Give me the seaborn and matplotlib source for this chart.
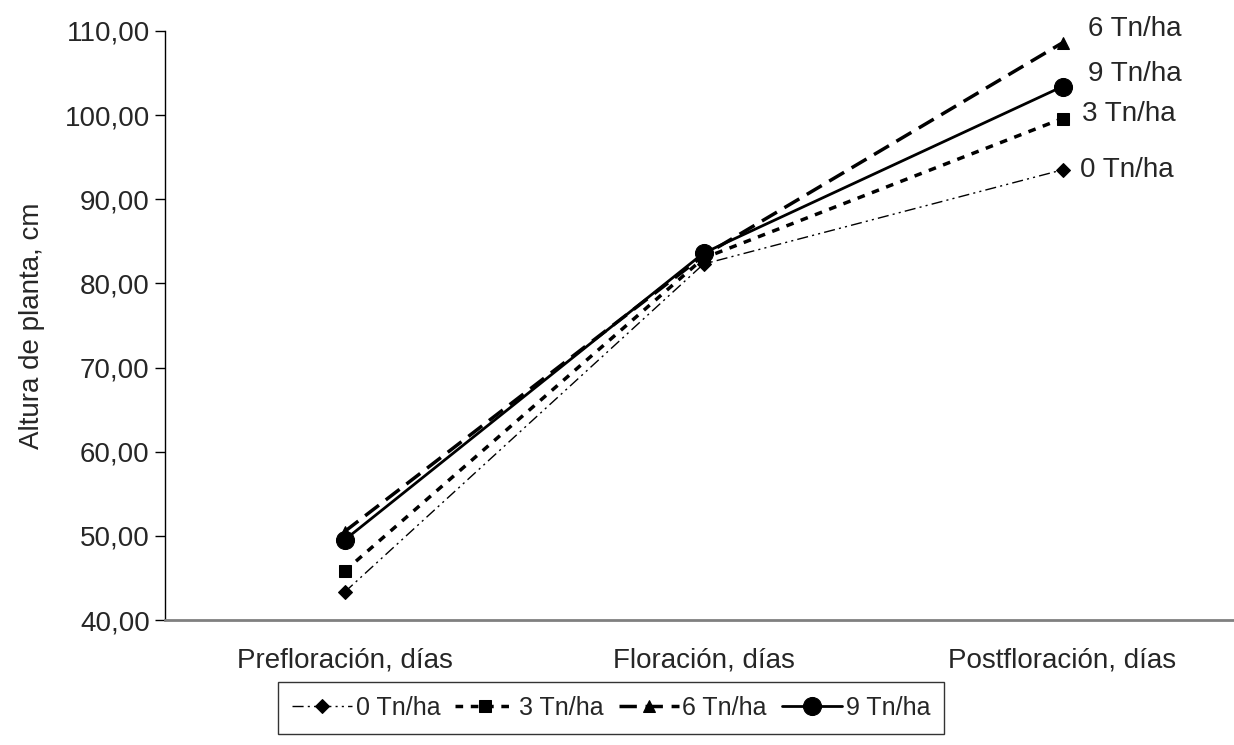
import matplotlib
matplotlib.use('Agg')
import matplotlib.pyplot as plt
import seaborn as sns
import pandas as pd
from matplotlib.ticker import FixedLocator, FuncFormatter

etapas = ['Prefloración, días', 'Floración, días', 'Postfloración, días']
series = ['0 Tn/ha', '3 Tn/ha', '6 Tn/ha', '9 Tn/ha']
t0 = [43.3, 82.3, 93.5]
t3 = [45.8, 83.0, 99.6]
t6 = [50.5, 83.3, 108.6]
t9 = [49.5, 83.6, 103.4]

valores = [t0, t3, t6, t9]
rows = []
for s, vals in zip(series, valores):
    for i, v in enumerate(vals):
        rows.append({'serie': s, 'x': i, 'altura': v})
df = pd.DataFrame(rows)

sns.set_style('white')
plt.rcParams['font.family'] = ['Liberation Sans', 'DejaVu Sans']

fig = plt.figure(figsize=(12.34, 7.45), dpi=100)
ax = fig.add_axes([165 / 1234, 1 - 620 / 745, 1077 / 1234, 589 / 745])

estilos = {
    '0 Tn/ha': dict(dashes=(8, 3, 1.5, 3, 1.5, 3), marker='D', markersize=7, linewidth=1.0),
    '3 Tn/ha': dict(dashes=(2.2, 2.2), marker='s', markersize=8, linewidth=2.5),
    '6 Tn/ha': dict(dashes=(5, 2.5), marker='^', markersize=9, linewidth=2.5),
    '9 Tn/ha': dict(dashes=(), marker='o', markersize=13, linewidth=2.0),
}

for s in series:
    sub = df[df['serie'] == s]
    st = estilos[s]
    sns.lineplot(data=sub, x='x', y='altura', ax=ax, color='black',
                 marker=st['marker'], markersize=st['markersize'],
                 linewidth=st['linewidth'], markeredgecolor='black',
                 label=s, legend=False)
    l = ax.lines[-1]
    if st['dashes']:
        l.set_dashes(st['dashes'])

# etiquetas al final de cada serie
offsets = {'6 Tn/ha': (26, 14), '9 Tn/ha': (26, 13), '3 Tn/ha': (20, 5), '0 Tn/ha': (18, 0)}
for s, vals in zip(series, valores):
    dx, dy = offsets[s]
    ax.annotate(s, xy=(2, vals[2]), xytext=(dx / 1.389, dy / 1.389),
                textcoords='offset points', ha='left', va='center', fontsize=20)

ax.set_xlim(-0.5, 2.5)
ax.set_ylim(40, 110)
ax.set_yticks(range(40, 111, 10))
ax.yaxis.set_major_formatter(FuncFormatter(lambda v, p: f'{v:.2f}'.replace('.', ',')))
ax.set_xticks([0, 1, 2])
ax.set_xticklabels(etapas)
ax.xaxis.set_minor_locator(FixedLocator([0.5, 1.5]))
ax.tick_params(axis='x', which='major', length=0, pad=20, labelsize=20)
ax.tick_params(axis='x', which='minor', length=8, width=1.5, color='#404040', direction='out')
ax.tick_params(axis='y', length=7, width=1, color='black', direction='out', labelsize=20, pad=4, left=True)
ax.set_xlabel('')
ax.set_ylabel('Altura de planta, cm', fontsize=20, labelpad=14)

for side in ['top', 'right']:
    ax.spines[side].set_visible(False)
ax.spines['left'].set_color('black')
ax.spines['left'].set_linewidth(1)
ax.spines['bottom'].set_color('#808080')
ax.spines['bottom'].set_linewidth(2)

handles = ax.lines[:4]
leg = fig.legend(handles, series, loc='center', ncol=4,
                 bbox_to_anchor=(611 / 1234, 1 - 708 / 745), fontsize=18,
                 frameon=True, fancybox=False, handlelength=2.4, handletextpad=0.15,
                 columnspacing=0.6, borderpad=0.55)
leg.get_frame().set_edgecolor('black')
leg.get_frame().set_linewidth(1)

fig.savefig('out.png', dpi=100)
